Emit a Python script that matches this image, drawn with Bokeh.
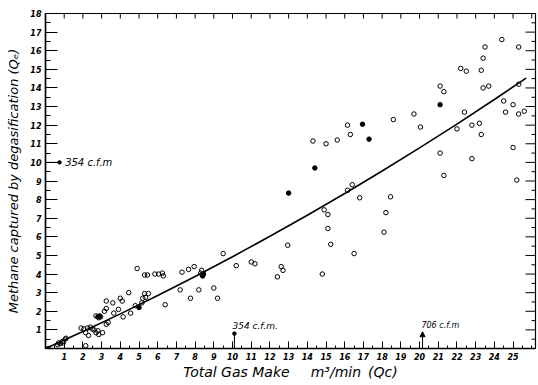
from bokeh.plotting import figure
from bokeh.models import FixedTicker, Label, Range1d, Arrow, NormalHead
from bokeh.embed import file_html
from bokeh.resources import INLINE

# ---- data (m3/min) ----
open_x = [24.4, 23.5, 25.3, 23.4, 22.2, 22.5, 23.3, 21.1, 21.3, 23.4, 23.7, 25.3,
          19.7, 18.6, 22.4, 24.5, 25.0, 24.6, 25.3, 25.6, 20.05, 22.8, 23.2, 22.0,
          23.3, 25.0, 21.1, 22.8, 21.3, 25.2,
          16.15, 16.3, 14.3, 15.0, 15.6, 16.4, 16.15, 16.8, 18.45, 14.9, 15.1, 18.2,
          15.1, 18.1, 15.25, 12.95, 16.5, 11.0, 11.2, 12.6, 12.7, 12.4, 14.8, 9.5, 10.2,
          8.35, 8.3, 7.3, 7.65, 7.95, 7.2, 8.2, 9.0, 7.75, 9.2, 6.4,
          4.9, 5.3, 5.45, 5.85, 6.05, 6.25, 6.3,
          4.45, 5.3, 5.5, 5.35, 5.2, 3.25, 3.6, 4.0, 4.1, 3.9, 3.65, 3.15, 3.25, 4.15,
          4.8, 5.15, 4.55, 2.85, 2.7, 2.95, 3.35, 3.25, 1.9, 2.05, 2.25, 2.4, 2.5, 2.6,
          2.15, 2.3, 2.7, 2.85, 3.05, 2.8, 0.9, 0.95, 0.7, 0.65, 1.05, 1.1, 0.8, 0.15, 2.15]
open_y = [16.6, 16.2, 16.2, 15.6, 15.05, 14.9, 14.95, 14.1, 13.8, 14.0, 14.1, 14.2,
          12.6, 12.3, 12.7, 13.3, 13.1, 12.7, 12.6, 12.75, 11.9, 12.0, 12.1, 11.8,
          11.5, 10.8, 10.5, 10.2, 9.3, 9.05,
          12.0, 11.5, 11.15, 11.0, 11.2, 8.8, 8.5, 8.1, 8.15, 7.45, 7.2, 7.3,
          6.45, 6.25, 5.6, 5.55, 5.1, 4.65, 4.55, 4.4, 4.2, 3.85, 4.0, 5.1, 4.45,
          4.2, 4.05, 4.1, 4.25, 4.4, 3.15, 3.15, 3.25, 2.7, 2.7, 2.35,
          4.3, 3.95, 3.95, 4.0, 4.0, 4.05, 3.9,
          3.0, 2.95, 2.95, 2.75, 2.7, 2.55, 2.45, 2.7, 2.55, 2.1, 1.9, 2.0, 2.15, 1.7,
          2.3, 2.45, 1.9, 1.65, 1.75, 1.7, 1.4, 1.3, 1.1, 1.05, 1.1, 1.15, 1.05, 1.0,
          0.85, 0.7, 0.85, 0.75, 0.85, 0.95, 0.38, 0.3, 0.3, 0.2, 0.5, 0.55, 0.27, 0.0, 0.15]

filled_x = [21.1, 17.3, 16.95, 14.4, 13.0, 8.4, 8.45, 2.8, 2.9, 5.0]
filled_y = [13.1, 11.25, 12.05, 9.7, 8.35, 3.9, 4.0, 1.7, 1.75, 2.2]

# fitted curve
curve_x = [0, 2, 4, 6, 8, 10, 12, 14, 16, 18, 20, 22, 24, 25.7]
curve_y = [0, 0.91, 1.86, 2.85, 3.87, 4.93, 6.03, 7.16, 8.33, 9.54, 10.78, 12.06, 13.38, 14.53]

x_ticks = list(range(1, 26))
y_ticks = list(range(1, 19))
top_ticks = list(range(1, 27))
half_y = [0.5 * i for i in range(1, 36)]

X_MAX, Y_MAX = 26.2, 18
FONT = "DejaVu Sans"

p = figure(width=538, height=385, x_range=Range1d(0, X_MAX), y_range=Range1d(0, Y_MAX),
           output_backend="svg", toolbar_location=None,
           min_border_left=45, min_border_right=3, min_border_top=13, min_border_bottom=37)
p.xgrid.visible = False
p.ygrid.visible = False
p.outline_line_color = "black"
p.outline_line_width = 1.2
p.background_fill_color = "white"
p.border_fill_color = "white"

minor_x = [0.5 * i for i in range(1, 53)]

xa = p.xaxis[0]
xa.ticker = FixedTicker(ticks=x_ticks, minor_ticks=minor_x)
xa.major_tick_in = 7
xa.major_tick_out = 0
xa.minor_tick_in = 3
xa.minor_tick_out = 0
xa.major_label_standoff = 4
xa.axis_line_width = 1.5
xa.major_label_text_font = FONT
xa.major_label_text_font_style = "bold italic"
xa.major_label_text_font_size = "8px"
xa.major_label_text_color = "black"
xa.axis_label = "Total Gas Make\u2003\u2002m³/min\u2002(Qc)"
xa.axis_label_text_font = FONT
xa.axis_label_text_font_style = "italic"
xa.axis_label_text_font_size = "14px"
xa.axis_label_text_color = "black"
xa.axis_label_standoff = 1

ya = p.yaxis[0]
ya.ticker = FixedTicker(ticks=y_ticks, minor_ticks=half_y)
ya.major_tick_in = 12
ya.major_tick_out = 0
ya.minor_tick_in = 5
ya.minor_tick_out = 0
ya.major_label_standoff = 4
ya.axis_line_width = 1.5
ya.major_label_text_font = FONT
ya.major_label_text_font_style = "bold italic"
ya.major_label_text_font_size = "8px"
ya.major_label_text_color = "black"
ya.axis_label = "Methane captured by degasification (Qₑ)"
ya.axis_label_text_font = FONT
ya.axis_label_text_font_style = "italic"
ya.axis_label_text_font_size = "13px"
ya.axis_label_text_color = "black"
ya.axis_label_standoff = 6

# top and right tick marks (inward), drawn from the tick lists
top_len = 5 / 18.6
p.segment(x0=top_ticks, y0=[Y_MAX] * len(top_ticks), x1=top_ticks,
          y1=[Y_MAX - top_len] * len(top_ticks), line_color="black", line_width=1)
r_len = [(10 if v == int(v) else 4) / 18.7 for v in half_y]
p.segment(x0=[X_MAX] * len(half_y), y0=half_y, x1=[X_MAX - L for L in r_len], y1=half_y,
          line_color="black", line_width=1)

# curve
p.line(curve_x, curve_y, line_color="black", line_width=1.6)

# data points
p.scatter(open_x, open_y, marker="circle", size=4.5, fill_color=None,
          line_color="black", line_width=1)
p.scatter(filled_x, filled_y, marker="circle", size=4.5, fill_color="black",
          line_color="black", line_width=1)

# reference marks
p.segment(x0=[0, 10.1], y0=[10, 0], x1=[0.75, 10.1], y1=[10, 0.8], line_color="black", line_width=1)
p.scatter([0.75, 10.1], [10, 0.8], marker="circle", size=3.5, fill_color="black", line_color="black")
p.add_layout(Arrow(end=NormalHead(size=5, fill_color="black", line_color="black"),
                   x_start=20.16, y_start=0, x_end=20.16, y_end=0.9, line_width=1))

for txt, x, y, fs in [("354 c.f.m", 1.05, 10, "10px"), ("354 c.f.m.", 10.0, 1.2, "9px"),
                      ("706 c.f.m", 20.1, 1.25, "8px")]:
    p.add_layout(Label(x=x, y=y, text=txt, text_font=FONT, text_font_style="italic",
                       text_font_size=fs, text_baseline="middle", text_align="left",
                       text_color="black"))

open("out.html", "w").write(file_html(p, INLINE))
